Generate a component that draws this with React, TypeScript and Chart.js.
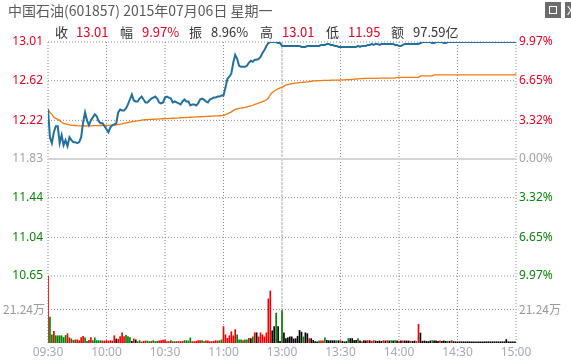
import React, { useEffect, useRef } from "react";
import { Chart, registerables } from "chart.js";
Chart.register(...registerables);

const titleText = "中国石油(601857) 2015年07月06日 星期一";
const timeLabels = ["09:30", "10:00", "10:30", "11:00", "13:00", "13:30", "14:00", "14:30", "15:00"];
const priceTicks = [10.65, 11.04, 11.44, 11.83, 12.22, 12.62, 13.01];
const pctTicks = ["9.97%", "6.65%", "3.32%", "0.00%", "3.32%", "6.65%", "9.97%"];
const prevClose = 11.83;
const volTick = 21.24;
const volTickLabel = "21.24万";
const volMax = 42.48;

const infoItems = [
  { x: 55, t: "收", c: "k" }, { x: 76, t: "13.01", c: "r" },
  { x: 120, t: "幅", c: "k" }, { x: 142, t: "9.97%", c: "r" },
  { x: 189, t: "振", c: "k" }, { x: 211, t: "8.96%", c: "k" },
  { x: 260, t: "高", c: "k" }, { x: 282, t: "13.01", c: "r" },
  { x: 326, t: "低", c: "k" }, { x: 348, t: "11.95", c: "r" },
  { x: 391, t: "额", c: "k" }, { x: 413, t: "97.59亿", c: "k" },
];

const priceAM = [
  12.33, 12.05, 11.99, 12.10, 12.16, 12.16, 11.99, 12.07, 11.97, 12.02,
  11.96, 12.05, 12.02, 12.00, 12.00, 11.99, 12.00, 12.05, 12.20, 12.30,
  12.22, 12.17, 12.22, 12.25, 12.28, 12.26, 12.21, 12.19, 12.19, 12.16,
  12.13, 12.10, 12.15, 12.17, 12.18, 12.19, 12.30, 12.33, 12.32, 12.32,
  12.34, 12.38, 12.43, 12.48, 12.42, 12.41, 12.41, 12.44, 12.46, 12.43,
  12.40, 12.40, 12.42, 12.44, 12.45, 12.46, 12.44, 12.40, 12.39, 12.40,
  12.45, 12.46, 12.45, 12.44, 12.40, 12.41, 12.40, 12.39, 12.38, 12.41,
  12.43, 12.41, 12.41, 12.37, 12.38, 12.38, 12.37, 12.39, 12.43, 12.44,
  12.43, 12.41, 12.40, 12.43, 12.44, 12.45, 12.45, 12.46, 12.46, 12.47,
  12.47, 12.55, 12.64, 12.66, 12.69, 12.80, 12.88, 12.84, 12.77, 12.76,
  12.76, 12.76, 12.77, 12.80, 12.82, 12.81, 12.83, 12.83, 12.84, 12.86,
  12.90, 12.93, 12.97, 13.00, 13.01, 13.01, 13.01, 13.01, 13.00, 13.00,
  12.97,
];
const pricePM = [
  12.97, 12.97, 12.97, 12.97, 12.97, 12.97, 12.97, 12.97, 12.97, 12.96,
  12.96, 12.96, 12.97, 12.97, 12.97, 12.97, 12.97, 12.97, 12.97, 12.98,
  12.98, 12.98, 12.99, 12.99, 12.98, 12.98, 12.97, 12.97, 12.96, 12.96,
  12.96, 12.96, 12.96, 12.96, 12.96, 12.96, 12.96, 12.96, 12.97, 12.96,
  12.97, 12.97, 12.97, 12.98, 12.98, 12.99, 12.98, 12.99, 12.99, 12.98,
  12.99, 12.99, 12.99, 12.99, 12.99, 12.99, 12.99, 12.98, 12.98, 12.97,
  12.97, 12.98, 12.99, 12.99, 12.99, 12.99, 12.99, 12.99, 12.99, 12.99,
  13.00, 13.01, 13.01, 13.01, 13.01, 13.01, 13.00, 13.00, 13.01, 13.01,
  13.01, 13.01, 13.00, 13.00, 13.01, 13.01, 13.01, 13.01, 13.01, 13.01,
  13.01, 13.01, 13.01, 13.01, 13.01, 13.01, 13.01, 13.01, 13.01, 13.01,
  13.01, 13.01, 13.01, 13.01, 13.01, 13.01, 13.01, 13.01, 13.01, 13.01,
  13.01, 13.01, 13.01, 13.01, 13.01, 13.01, 13.01, 13.01, 13.01, 13.01,
];
const avgAM = [
  12.33, 12.30, 12.28, 12.25, 12.24, 12.23, 12.22, 12.20, 12.19, 12.185,
  12.18, 12.175, 12.17, 12.17, 12.168, 12.166, 12.165, 12.164, 12.163, 12.163,
  12.164, 12.165, 12.165, 12.166, 12.166, 12.167, 12.167, 12.168, 12.168, 12.169,
  12.170, 12.170, 12.171, 12.172, 12.173, 12.175, 12.178, 12.181, 12.185, 12.190,
  12.194, 12.198, 12.202, 12.206, 12.209, 12.212, 12.215, 12.218, 12.221, 12.224,
  12.226, 12.228, 12.229, 12.230, 12.231, 12.232, 12.233, 12.234, 12.235, 12.236,
  12.237, 12.238, 12.239, 12.240, 12.241, 12.242, 12.243, 12.244, 12.246, 12.247,
  12.248, 12.249, 12.250, 12.251, 12.252, 12.253, 12.254, 12.255, 12.256, 12.257,
  12.258, 12.259, 12.260, 12.261, 12.262, 12.263, 12.264, 12.265, 12.266, 12.267,
  12.270, 12.278, 12.285, 12.295, 12.305, 12.318, 12.330, 12.336, 12.340, 12.343,
  12.347, 12.350, 12.355, 12.360, 12.365, 12.372, 12.380, 12.387, 12.393, 12.400,
  12.408, 12.417, 12.428, 12.445, 12.480, 12.500, 12.515, 12.528, 12.538, 12.548,
  12.553,
];
const avgPM = [
  12.565, 12.574, 12.580, 12.585, 12.589, 12.592, 12.595, 12.598, 12.600, 12.602,
  12.604, 12.606, 12.608, 12.611, 12.614, 12.617, 12.618, 12.619, 12.620, 12.621,
  12.622, 12.622, 12.623, 12.623, 12.624, 12.625, 12.625, 12.626, 12.626, 12.627,
  12.628, 12.629, 12.630, 12.630, 12.631, 12.633, 12.635, 12.637, 12.639, 12.640,
  12.641, 12.642, 12.643, 12.643, 12.643, 12.644, 12.644, 12.644, 12.644, 12.645,
  12.645, 12.645, 12.645, 12.645, 12.645, 12.645, 12.645, 12.645, 12.654, 12.654,
  12.654, 12.654, 12.654, 12.654, 12.654, 12.654, 12.654, 12.654, 12.654, 12.654,
  12.668, 12.668, 12.668, 12.668, 12.668, 12.668, 12.668, 12.678, 12.678, 12.678,
  12.678, 12.678, 12.678, 12.678, 12.678, 12.678, 12.678, 12.678, 12.678, 12.678,
  12.678, 12.678, 12.678, 12.678, 12.678, 12.678, 12.678, 12.678, 12.678, 12.678,
  12.678, 12.678, 12.678, 12.678, 12.678, 12.678, 12.678, 12.678, 12.678, 12.678,
  12.678, 12.678, 12.678, 12.678, 12.678, 12.678, 12.678, 12.678, 12.678, 12.688,
];
const volAM = [
  43.0, 16.5, 5.2, 7.4, 4.6, 4.6, 4.6, 4.6, 3.5, 4.8,
  5.9, 3.3, 2.6, 1.7, 2.0, 2.0, 1.5, 3.5, 4.3, 3.3,
  1.1, 1.7, 3.5, 1.5, 3.3, 1.5, 1.5, 1.5, 1.3, 1.3,
  1.5, 1.3, 1.5, 1.3, 4.6, 2.6, 2.4, 4.1, 6.5, 4.1,
  4.8, 4.1, 3.5, 1.1, 2.6, 2.0, 0.9, 1.5, 0.7, 1.1,
  1.3, 1.3, 0.9, 1.1, 1.5, 0.9, 1.1, 1.3, 1.5, 1.9,
  1.9, 0.9, 0.9, 1.5, 0.9, 0.9, 0.9, 0.9, 0.9, 1.1,
  1.5, 1.5, 1.3, 3.3, 0.9, 0.9, 1.1, 1.5, 1.5, 1.5,
  0.9, 1.3, 1.3, 0.9, 0.9, 1.1, 1.5, 1.3, 1.5, 2.0,
  10.4, 5.2, 3.0, 4.6, 7.2, 4.6, 8.5, 5.2, 2.0, 2.0,
  1.5, 2.0, 2.0, 3.0, 2.8, 3.9, 6.5, 6.5, 3.9, 6.5,
  5.2, 3.9, 6.5, 28.0, 33.0, 7.8, 10.4, 19.0, 10.4, 1.0,
  20.6,
];
const volPM = [
  6.5, 2.8, 3.3, 3.9, 3.9, 2.6, 2.8, 4.3, 8.0, 6.9,
  3.9, 6.5, 5.9, 2.8, 2.8, 1.7, 0.9, 0.7, 1.3, 1.3,
  1.3, 3.3, 1.7, 1.5, 1.5, 1.5, 1.5, 1.5, 1.5, 1.5,
  1.1, 0.7, 0.9, 2.8, 2.8, 2.8, 1.5, 1.7, 2.8, 1.3,
  0.9, 1.5, 1.3, 1.5, 1.5, 1.1, 1.5, 1.3, 1.1, 1.3,
  1.1, 1.5, 1.3, 1.5, 1.3, 1.5, 1.3, 1.5, 1.3, 1.1,
  1.3, 1.3, 1.3, 1.3, 1.3, 1.1, 1.1, 1.3, 0.9, 11.9,
  6.3, 1.1, 1.3, 1.1, 0.9, 1.3, 1.5, 1.3, 1.3, 1.1,
  1.3, 1.1, 1.3, 1.1, 1.1, 1.1, 1.5, 0.9, 0.8, 0.8,
  0.8, 0.8, 0.8, 0.8, 0.8, 0.8, 0.8, 0.8, 0.8, 0.8,
  0.8, 0.8, 0.8, 0.8, 0.8, 0.8, 0.8, 0.8, 0.8, 0.8,
  0.8, 0.8, 0.8, 0.8, 2.2, 0.8, 0.8, 0.8, 0.8, 0.8,
];
const volDirAM =
  "rggrgggggg" + "rrgrgrrrrg" + "grrgggggrr" + "rrrrrkrrrr" + "gggkrkggrr" +
  "rggrgggrrr" + "rrrgrgrrrr" + "ggggrrrrrg" + "grrrrrrrgg" + "rrrrrrrggg" +
  "rggrkgrkrr" + "rrrrrkkgkk" + "g";
const volDirPM =
  "kkkkkkkkkk" + "gkkrkkkkgr" + "rgkkkkkgkr" + "kkkgkkkkgk" + "rkkrkrrkkk" +
  "krkrkgkgkr" + "krkkkrkkrr" + "kkkkkkgkkk" + "rkkkgkrkkk" + "kkkkkkkkkk" +
  "kkkkkkkkkk" + "kkkkkkkkkk";

const RED = "#e60023";
const GREEN = "#0a850a";
const GREY = "#a3a3a3";
const AXIS_GREY = "#9a9a9a";
const GRID = "#8a8a8a";
const LIGHT = "#d4d4d4";
const BAR_COLORS: Record<string, string> = { r: "#f00000", g: "#008000", k: "#000000" };
const FONT_FAMILY = "'Noto Sans', 'Noto Sans CJK SC', sans-serif";
const CJK_FAMILY = "'Noto Sans CJK SC', 'Noto Sans', sans-serif";

export default function App() {
  const ref = useRef<HTMLCanvasElement | null>(null);

  useEffect(() => {
    const price = [...priceAM, ...pricePM];
    const avg = [...avgAM, ...avgPM];
    const vol = [...volAM, ...volPM];
    const dirs = (volDirAM + volDirPM).split("");
    const tickFont = { family: FONT_FAMILY, size: 12 };
    const priceColor = (c: any) => {
      const v = c && c.tick ? c.tick.value : prevClose;
      return Math.abs(v - prevClose) < 0.001 ? GREY : v > prevClose ? RED : GREEN;
    };
    const hidden = { display: false, drawTicks: false };
    const xMin = 0;
    const xMax = (timeLabels.length - 1) * 30;

    const gridLine = (pts: { x: number; y: number }[], axis: string, color: string, width: number, dash: number[]) => ({
      type: "line",
      data: pts,
      borderColor: color,
      borderWidth: width,
      borderDash: dash,
      pointRadius: 0,
      tension: 0,
      fill: false,
      yAxisID: axis,
      xAxisID: "x",
      order: 10,
      clip: 2,
    });

    const gridSets: any[] = [];
    priceTicks.forEach((t) => {
      const zero = Math.abs(t - prevClose) < 0.001;
      gridSets.push(
        gridLine([{ x: xMin, y: t }, { x: xMax, y: t }], "y", zero ? LIGHT : GRID, zero ? 2 : 1, zero ? [] : [1, 2])
      );
    });
    gridSets.push(gridLine([{ x: xMin, y: volTick }, { x: xMax, y: volTick }], "v", GRID, 1, [1, 2]));
    timeLabels.forEach((_, i) => {
      const noon = i === 4;
      const col = noon ? LIGHT : GRID;
      const w = noon ? 2 : 1;
      const dash = noon ? [3, 1] : [1, 2];
      gridSets.push(
        gridLine([{ x: i * 30, y: priceTicks[priceTicks.length - 1] }, { x: i * 30, y: priceTicks[0] }], "y", col, w, dash)
      );
      gridSets.push(gridLine([{ x: i * 30, y: volMax }, { x: i * 30, y: 0 }], "v", col, w, dash));
    });

    const chart = new Chart(ref.current as HTMLCanvasElement, {
      type: "line",
      data: {
        datasets: [
          {
            type: "line",
            data: price.map((p, i) => ({ x: i, y: p })),
            borderColor: "#21709d",
            borderWidth: 2,
            pointRadius: 0,
            tension: 0,
            fill: false,
            yAxisID: "y",
            xAxisID: "x",
            order: 0,
          },
          {
            type: "line",
            data: avg.map((p, i) => ({ x: i, y: p })),
            borderColor: "#f27810",
            borderWidth: 1.3,
            pointRadius: 0,
            tension: 0,
            fill: false,
            yAxisID: "y",
            xAxisID: "x",
            order: 1,
          },
          {
            type: "bar",
            data: vol.map((v, i) => ({ x: i, y: v })),
            backgroundColor: dirs.map((d) => BAR_COLORS[d]),
            barThickness: 1,
            borderWidth: 0,
            yAxisID: "v",
            xAxisID: "x",
            order: 2,
          },
          ...gridSets,
        ] as any,
      },
      options: {
        responsive: false,
        animation: false,
        events: [],
        layout: { padding: { top: 42, left: 0, right: 0, bottom: 0 } },
        plugins: { legend: { display: false }, tooltip: { enabled: false } },
        scales: {
          x: {
            type: "linear",
            position: "bottom",
            offset: false,
            min: xMin,
            max: xMax,
            afterBuildTicks: (s: any) => {
              s.ticks = timeLabels.map((_, i) => ({ value: i * 30 }));
            },
            afterFit: (s: any) => {
              s.height = 21;
            },
            ticks: {
              callback: (_v: any, i: number) => timeLabels[i],
              color: "#a4a9b6",
              font: tickFont,
              padding: 2,
              maxRotation: 0,
              autoSkip: false,
            },
            grid: { display: false, offset: false, drawTicks: false },
            border: { display: false },
          },
          y: {
            type: "linear",
            position: "left",
            stack: "L",
            stackWeight: 234,
            weight: 2,
            min: priceTicks[0],
            max: priceTicks[priceTicks.length - 1],
            afterBuildTicks: (s: any) => {
              s.ticks = priceTicks.map((v) => ({ value: v }));
            },
            afterFit: (s: any) => {
              s.width = 48;
            },
            ticks: {
              callback: (v: any) => Number(v).toFixed(2),
              color: priceColor,
              font: tickFont,
              padding: 5,
            },
            grid: hidden,
            border: { display: false },
          },
          v: {
            type: "linear",
            position: "left",
            stack: "L",
            stackWeight: 67,
            weight: 1,
            min: 0,
            max: volMax,
            afterBuildTicks: (s: any) => {
              s.ticks = [{ value: volTick }];
            },
            afterFit: (s: any) => {
              s.width = 48;
            },
            ticks: {
              callback: () => volTickLabel,
              color: AXIS_GREY,
              font: { family: CJK_FAMILY, size: 12 },
              padding: 3,
            },
            grid: hidden,
            border: { display: false },
          },
          yR: {
            type: "linear",
            position: "right",
            stack: "R",
            stackWeight: 234,
            weight: 1,
            min: priceTicks[0],
            max: priceTicks[priceTicks.length - 1],
            afterBuildTicks: (s: any) => {
              s.ticks = priceTicks.map((v) => ({ value: v }));
            },
            afterFit: (s: any) => {
              s.width = 55;
            },
            ticks: {
              callback: (_v: any, i: number) => pctTicks[i],
              color: priceColor,
              font: tickFont,
              padding: 3,
            },
            grid: hidden,
            border: { display: false },
          },
          vR: {
            type: "linear",
            position: "right",
            stack: "R",
            stackWeight: 67,
            weight: 2,
            min: 0,
            max: volMax,
            afterBuildTicks: (s: any) => {
              s.ticks = [{ value: volTick }];
            },
            afterFit: (s: any) => {
              s.width = 55;
            },
            ticks: {
              callback: () => volTickLabel,
              color: AXIS_GREY,
              font: { family: CJK_FAMILY, size: 12 },
              padding: 3,
            },
            grid: hidden,
            border: { display: false },
          },
        },
      } as any,
    });
    return () => chart.destroy();
  }, []);

  return (
    <div style={{ position: "fixed", left: 0, top: 0, width: 571, height: 364, background: "#fff" }}>
      <canvas ref={ref} width={571} height={364} style={{ position: "absolute", left: 0, top: 0 }} />
      <div
        style={{
          position: "absolute", left: 8, top: 0, height: 20, lineHeight: "20px",
          fontFamily: CJK_FAMILY, fontSize: 14, color: "#5a5a5a", whiteSpace: "nowrap",
        }}
      >
        {titleText}
      </div>
      {infoItems.map((it, i) => (
        <span
          key={i}
          style={{
            position: "absolute", left: it.x, top: 23, height: 18, lineHeight: "18px",
            fontFamily: CJK_FAMILY, fontSize: 13, whiteSpace: "nowrap",
            color: it.c === "r" ? RED : "#333",
          }}
        >
          {it.t}
        </span>
      ))}
      <div style={{ position: "absolute", left: 545, top: 2, width: 16, height: 16, background: "#6b6b6b" }}>
        <div style={{ position: "absolute", left: 4, top: 4, width: 6, height: 6, border: "1px solid #fff" }} />
      </div>
      <div style={{ position: "absolute", left: 565, top: 2, width: 16, height: 16, background: "#6b6b6b" }}>
        <div style={{ position: "absolute", left: 2, top: -1, color: "#fff", fontSize: 13, fontFamily: FONT_FAMILY }}>X</div>
      </div>
    </div>
  );
}
